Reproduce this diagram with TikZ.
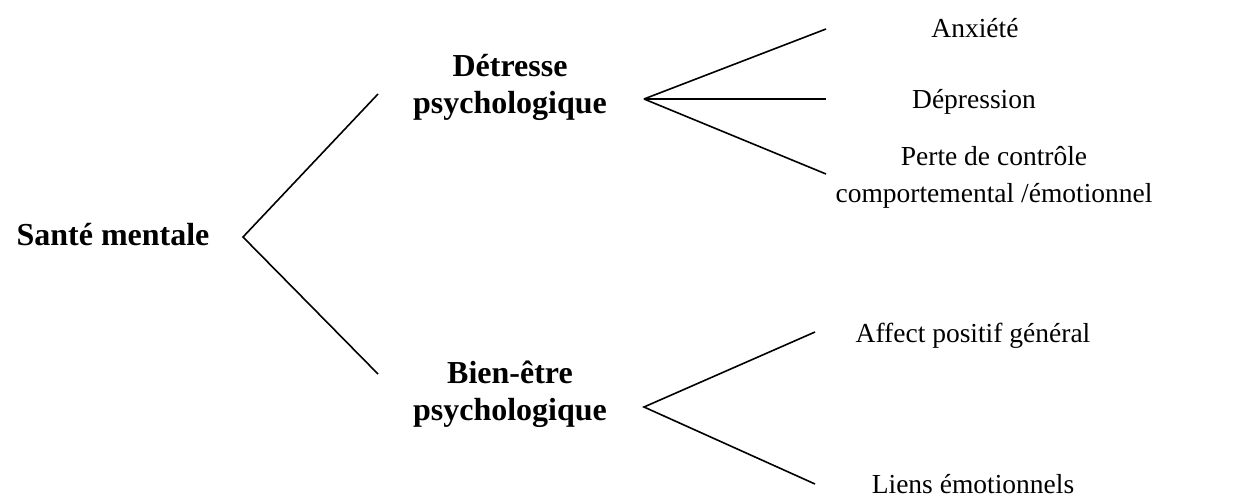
\documentclass[tikz,border=0pt]{standalone}
\usepackage{fontspec}
\setmainfont{Liberation Serif}

\begin{document}
\begin{tikzpicture}[x=1pt, y=-1pt,
    branch/.style={draw, line width=1.6pt},
    title/.style={font=\fontsize{32}{37}\selectfont\bfseries, align=center, inner sep=0pt, anchor=base},
    leaf/.style={font=\fontsize{27.5}{37}\selectfont, align=center, inner sep=0pt, anchor=base}]
  \useasboundingbox (0,0) rectangle (1248,496);
  % main headings (two-line nodes sit on the baseline of their last line)
  \node[title] (sante) at (113,245) {Santé mentale};
  \node[title] (detresse) at (510,113) {Détresse\\psychologique};
  \node[title] (bienetre) at (510,420) {Bien-être\\psychologique};
  % sub items
  \node[leaf] (anxiete) at (975,37) {Anxiété};
  \node[leaf] (depression) at (974,108) {Dépression};
  \node[leaf] (perte) at (994,202) {Perte de contrôle\\comportemental /émotionnel};
  \node[leaf] (affect) at (973,342) {Affect positif général};
  \node[leaf] (liens) at (973,493) {Liens émotionnels};
  % branch points
  \coordinate (root) at (243,237);
  \coordinate (root-up) at (378,94);
  \coordinate (root-down) at (378,374);
  \coordinate (det) at (644,99);
  \coordinate (det-a) at (826,29);
  \coordinate (det-b) at (826,99);
  \coordinate (det-c) at (826,174);
  \coordinate (bien) at (644,407);
  \coordinate (bien-a) at (815,332);
  \coordinate (bien-b) at (815,484);
  % branches
  \draw[branch] (root-up) -- (root) -- (root-down);
  \foreach \e in {det-a,det-b,det-c}
    \draw[branch] (det) -- (\e);
  \draw[branch] (bien-a) -- (bien) -- (bien-b);
\end{tikzpicture}
\end{document}
